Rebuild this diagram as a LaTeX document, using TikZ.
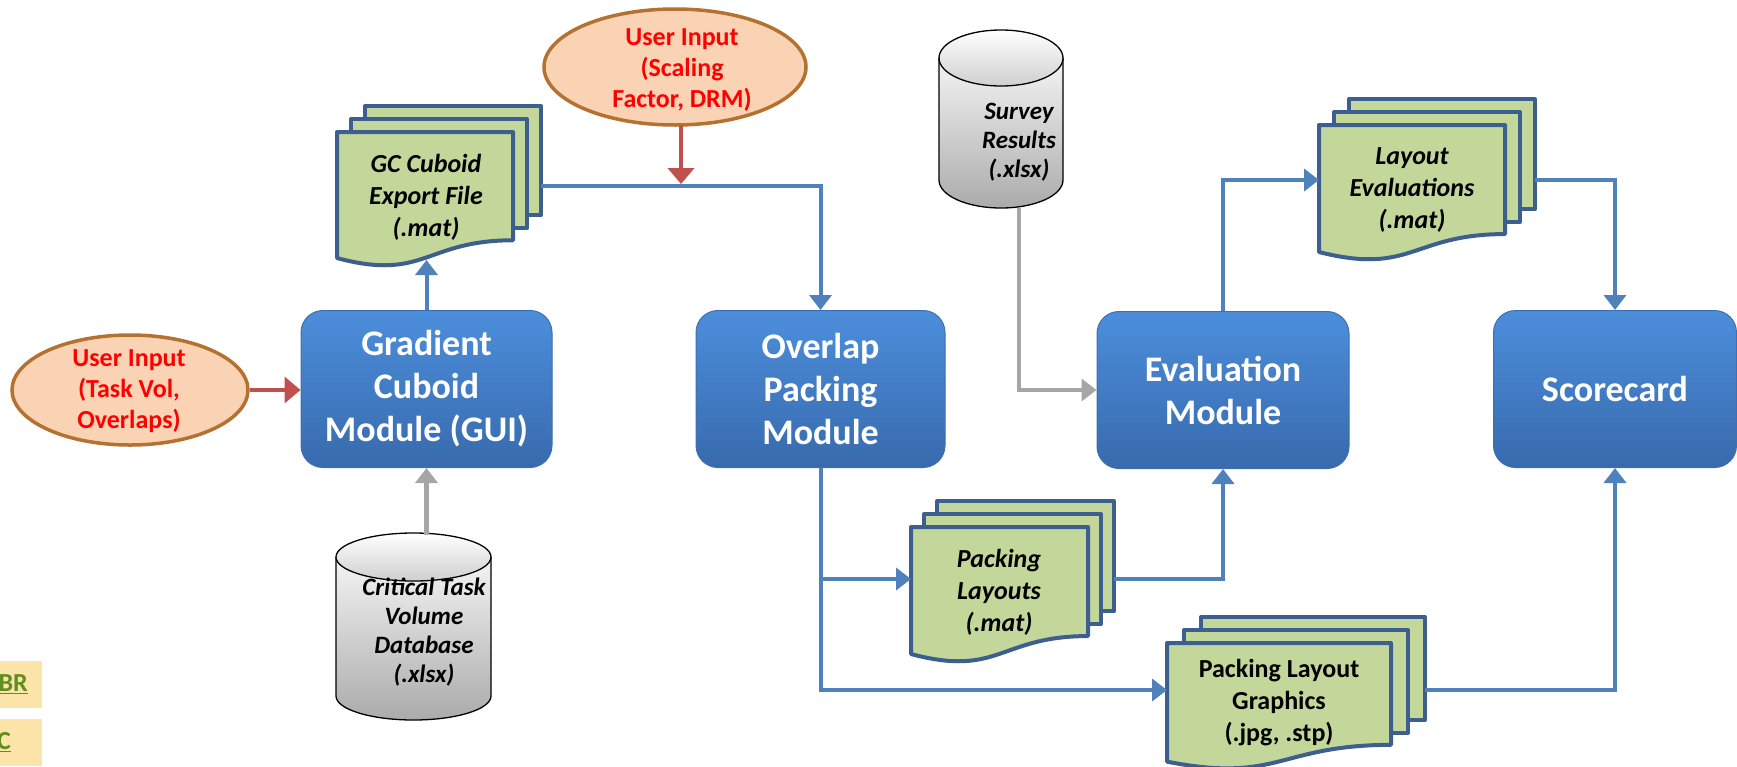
\documentclass[tikz,border=0pt]{standalone}
\usepackage{fontspec}
\setmainfont{Carlito}
\usetikzlibrary{arrows.meta,shapes.geometric,calc}

\definecolor{boxtop}{HTML}{4C8EDB}
\definecolor{boxbot}{HTML}{386AAD}
\definecolor{boxline}{HTML}{3D6FB2}
\definecolor{docfill}{HTML}{C4D79B}
\definecolor{docline}{HTML}{3D5F8F}
\definecolor{inpfill}{HTML}{FAD3B4}
\definecolor{inpline}{HTML}{B5712F}
\definecolor{flowblue}{HTML}{4F81BD}
\definecolor{flowred}{HTML}{C0504D}
\definecolor{flowgray}{HTML}{A6A6A6}
\definecolor{tagfill}{HTML}{FDE4A9}
\definecolor{taggreen}{HTML}{5E8F1F}
\definecolor{cyltop}{HTML}{F4F4F4}
\definecolor{cylbot}{HTML}{ABABAB}

\tikzset{
  module/.style={rectangle, rounded corners=22pt, top color=boxtop, bottom color=boxbot,
    draw=boxline, line width=1pt, text=white, align=center, inner sep=0pt,
    minimum width=251pt, minimum height=157pt,
    font=\fontsize{36}{43}\selectfont\bfseries},
  inputshape/.style={ellipse, draw=inpline, fill=inpfill, line width=3.5pt, inner sep=0pt},
  inputtext/.style={text=red, align=center, inner sep=0pt,
    font=\fontsize{26}{31}\selectfont\bfseries},
  page/.style={draw=docline, fill=docfill, line width=4pt, line join=round},
  doctext/.style={align=center, inner sep=0pt, font=\fontsize{26}{32}\selectfont\bfseries\itshape},
  docplain/.style={align=center, inner sep=0pt, font=\fontsize{26}{32}\selectfont\bfseries},
  cyltext/.style={align=center, inner sep=0pt, font=\fontsize{25}{29}\selectfont\bfseries\itshape},
  flow/.style={draw=flowblue, line width=4pt, -{Triangle[length=15pt,width=22pt]}},
  redflow/.style={draw=flowred, line width=4.5pt, -{Triangle[length=16pt,width=26pt]}},
  grayflow/.style={draw=flowgray, line width=4.5pt, -{Triangle[length=15pt,width=22pt]}},
  tagtext/.style={text=taggreen, inner sep=0pt, font=\fontsize{26}{30}\selectfont\bfseries},
}

% stack of three pages: left x, top y, width, height, sideways offset of the pages behind
\newcommand\docstack[5]{%
  \pgfmathsetmacro\dsXa{#1+#5}\pgfmathsetmacro\dsXb{#1+2*#5}%
  \pgfmathsetmacro\dsYa{#2-13}\pgfmathsetmacro\dsYb{#2-26}%
  \pgfmathsetmacro\dsXr{#1+#3}\pgfmathsetmacro\dsXra{#1+#3+#5}\pgfmathsetmacro\dsXrb{#1+#3+2*#5}%
  \pgfmathsetmacro\dsYr{#2+0.802*#4}\pgfmathsetmacro\dsYl{#2+0.934*#4}%
  \pgfmathsetmacro\dsYc{#2+1.107*#4}\pgfmathsetmacro\dsXm{#1+0.5*#3}%
  \pgfmathsetmacro\dsYra{\dsYr-12}\pgfmathsetmacro\dsYrb{\dsYr-25}%
  \draw[page] (\dsXb,\dsYb) rectangle (\dsXrb,\dsYrb);
  \draw[page] (\dsXa,\dsYa) rectangle (\dsXra,\dsYra);
  \draw[page] (#1,#2) -- (\dsXr,#2) -- (\dsXr,\dsYr)
    .. controls (\dsXm,\dsYr) and (\dsXm,\dsYc) .. (#1,\dsYl) -- cycle;
}

% database drum: centre x, top y, bottom y, x radius, y radius
\newcommand\drum[5]{%
  \pgfmathsetmacro\drL{#1-#4}\pgfmathsetmacro\drR{#1+#4}%
  \pgfmathsetmacro\drT{#2+#5}\pgfmathsetmacro\drB{#3-#5}%
  \path[top color=cyltop, bottom color=cylbot]
    (\drL,\drT) -- (\drL,\drB) arc[start angle=180, end angle=360, x radius=#4pt, y radius=#5pt]
    -- (\drR,\drT) -- cycle;
  \draw[black, line width=1.3pt]
    (\drL,\drT) -- (\drL,\drB) arc[start angle=180, end angle=360, x radius=#4pt, y radius=#5pt]
    -- (\drR,\drT);
  \draw[black, line width=1.3pt, top color=white, bottom color=cyltop!85!black]
    (#1,\drT) ellipse[x radius=#4pt, y radius=#5pt];
}

\begin{document}
\begin{tikzpicture}[x=1pt, y=-1pt]
\useasboundingbox (0,0) rectangle (1737,766);

% side tags at the lower left
\fill[tagfill] (0,661) rectangle (42,708);
\node[tagtext, anchor=east] (tagBR) at (28,684) {\underline{BR}};
\fill[tagfill] (0,719) rectangle (42,766);
\node[tagtext, anchor=east] (tagC) at (11,742) {\underline{C}};

% processing modules
\node[module] (gc) at (426.5,389) {Gradient\\Cuboid\\Module (GUI)};
\node[module, minimum width=249pt] (op) at (820.5,389) {Overlap\\Packing\\Module};
\node[module, minimum width=252pt] (ev) at (1223,390) {Evaluation\\Module};
\node[module, minimum width=243pt] (sc) at (1615,389) {Scorecard};

% user inputs
\node[inputshape, minimum width=236pt, minimum height=110pt] (ui1) at (130,390) {};
\node[inputtext] (ui1t) at (129,391) {User Input\\(Task Vol,\\Overlaps)};
\node[inputshape, minimum width=262pt, minimum height=116pt] (ui2) at (675,67) {};
\node[inputtext] (ui2t) at (682,70) {User Input\\(Scaling\\Factor, DRM)};

% data files
\docstack{337}{132}{176}{135}{14}
\node[doctext] (gcdoc) at (426,197) {GC Cuboid\\Export File\\(.mat)};
\docstack{911}{527}{177}{136}{13}
\node[doctext] (pldoc) at (999,592) {Packing\\Layouts\\(.mat)};
\docstack{1319}{125}{186}{136}{15}
\node[doctext] (ledoc) at (1412,190) {Layout\\Evaluations\\(.mat)};
\docstack{1167}{643}{224}{127}{17}
\node[docplain] (plgdoc) at (1279,703) {Packing Layout\\Graphics\\(.jpg, .stp)};

% databases
\drum{413.5}{533}{720}{77.5}{24}
\node[cyltext] (ctvt) at (424,632) {Critical Task\\Volume\\Database\\(.xlsx)};
\drum{1001}{30}{208}{62}{28}
\node[cyltext] (svt) at (1019,142) {Survey\\Results\\(.xlsx)};

% connector end points on the files and drums
\coordinate (gcdocin) at (426.5,260);
\coordinate (gcdocout) at (541,186);
\coordinate (plin) at (911,579);
\coordinate (plout) at (1114,579);
\coordinate (plgin) at (1167,690);
\coordinate (plgout) at (1425,690);
\coordinate (lein) at (1319,180);
\coordinate (leout) at (1535,180);
\coordinate (svout) at (1019,208);
\coordinate (ctvtop) at (426.5,535);
\coordinate (ui2foot) at (681,125);

% flows
\draw[flow] (gc.north) -- (gcdocin);
\draw[flow] (gcdocout) -| (op.north);
\draw[redflow, shorten >=2pt] (ui2foot) -- (ui2foot |- gcdocout);
\draw[redflow] (ui1.east) -- (ui1.east -| gc.west);
\draw[grayflow] (ctvtop) -- (gc.south);
\draw[flow] (op.south) |- (plin);
\draw[flow] (op.south) |- (plgin);
\draw[flow] (plout) -| (ev.south);
\draw[grayflow] (svout) |- (ev.west);
\draw[flow] (ev.north) |- (lein);
\draw[flow] (leout) -| (sc.north);
\draw[flow] (plgout) -| (sc.south);
\end{tikzpicture}
\end{document}
